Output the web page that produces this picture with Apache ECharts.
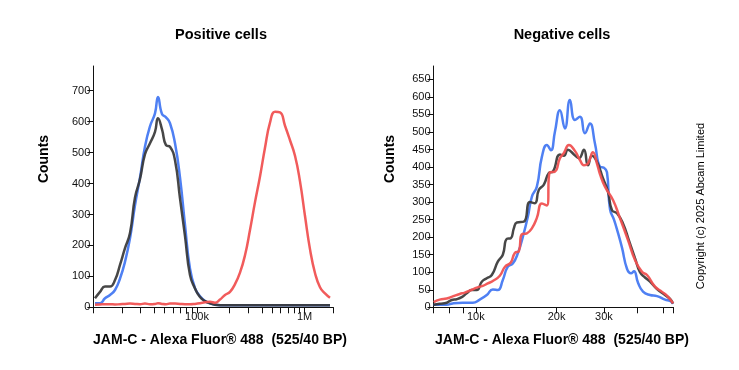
<!DOCTYPE html>
<html><head><meta charset="utf-8">
<script src="https://cdn.jsdelivr.net/npm/echarts@6/dist/echarts.min.js"></script>
<style>html,body{margin:0;padding:0;background:#fff}#c{width:739px;height:370px}</style>
</head><body><div id="c"></div>
<script>
// ---------- Positive cells (left) ----------
const leftX = [11270,12550,13960,15540,17300,19250,21420,23840,26530,29530,32860,36570,40700,43400,47280,51500,56110,62450,69500,77350,86090,95810,106600,118700,132100,147000,163600,182000,202600,225500,250900,279300,310800,346000,385000,428500,476900,530800,590700,657400,731600,814200,906200,1008600,1122000,1249000,1390000,1547000,1722000];
const leftBlue = [13,13,29,40,56,93,147,223,330,420,520,585,627,680,625,614,595,530,420,266,125,62,36,20,13,8,7,7,7,7,7,7,7,7,7,7,7,7,7,7,7,7,7,7,7,7,7,7,7];
const leftBlack = [29,50,67,67,88,137,191,240,355,415,495,530,567,611,575,524,519,475,352,230,104,61,33,20,13,8,7,7,7,7,7,7,7,7,7,7,7,7,7,7,7,7,7,7,7,7,7,7,7];
const leftRed = [8,9,10,10,9,10,11,12,11,10,12,10,11,13,11,10,12,12,11,10,10,11,13,16,18,15,25,40,50,75,112,168,250,340,423,516,597,632,630,587,540,490,407,295,188,111,65,45,31];

// ---------- Negative cells (right) ----------
const rightBlueX = [6971,7404,7795,8207,8944,9746,10349,10990,11572,12081,12611,13165,13741,14345,14974,15630,16177,16886,17627,18400,19043,19708,20576,21478,22420,23403,24431,25503,26621,27789,29008,30021,30805,31610,32714,33857,35040,36577,37855,38844,40200,41963,44563,47322,50689,52912,54293];
const rightBlue = [7,7,7,11,13,13,22,35,51,49,78,116,125,154,201,258,315,344,429,463,448,500,562,510,591,534,543,496,524,467,401,398,385,280,250,212,170,110,97,103,70,45,35,32,22,18,10];
const rightBlackX = [6971,7340,7795,8137,8494,8867,9256,9662,10086,10529,10990,11473,12081,12611,13052,13507,13860,14222,15103,15901,16599,17179,17932,18719,19372,20576,21295,22039,23203,24222,25285,26168,27082,28270,29765,31070,32157,33568,35342,37210,39178,40896,42690,44563,47322,50255,52912,54293];
const rightBlack = [7,10,13,21,23,29,40,49,49,73,83,92,130,150,195,197,225,242,244,300,297,335,350,383,387,436,432,449,436,425,449,405,432,415,368,330,277,268,239,190,140,100,85,73,52,37,24,11];
const rightRedX = [6971,7340,7795,8207,8716,9099,9662,10086,10620,11085,11572,12290,12830,13507,13979,14468,14846,15497,16177,16886,17627,18400,18880,19708,20576,21295,22229,23403,24431,25285,26168,27316,28270,29008,30280,32434,34444,36892,39178,41605,43430,46516,49400,52011,54293];
const rightRed = [15,22,25,31,38,42,50,56,61,68,75,90,115,128,155,160,208,211,225,255,296,290,385,387,425,440,463,446,420,405,410,442,410,380,344,306,254,192,135,101,92,59,44,30,11];

// ---------- axes ----------
const leftRange = [10870, 1848000];
const leftTicks = [10870,20000,30000,40000,50000,60000,70000,80000,90000,100000,200000,300000,400000,500000,600000,700000,800000,900000,1000000,1848000];
const leftLabels = [100000, 1000000];
const rightRange = [6960, 54500];
const rightTicks = [6960,8000,9000,10000,20000,30000,40000,50000,54500];
const rightLabels = [10000, 20000, 30000];
const leftYMax = 780, leftYTicks = [0,100,200,300,400,500,600,700];
const rightYMax = 688, rightYTicks = [0,50,100,150,200,250,300,350,400,450,500,550,600,650];

const titles = ['Positive cells', 'Negative cells'];
const xName = 'JAM-C - Alexa Fluor\u00AE 488  (525/40 BP)';
const yName = 'Counts';
const copyright = 'Copyright (c) 2025 Abcam Limited';

const FONT = '"Liberation Sans", Arial, sans-serif';
const COL = {blue: '#4f80f3', black: 'rgba(55,55,55,0.92)', red: 'rgba(240,82,82,0.95)'};

function fmt(v) {
  const n = Math.round(Math.pow(10, v));
  return n >= 1e6 ? (n / 1e6) + 'M' : (n / 1000) + 'k';
}
function xAxis(gi, range, ticks, labels) {
  return {
    type: 'value', gridIndex: gi,
    min: Math.log10(range[0]), max: Math.log10(range[1]),
    axisLine: {show: true, onZero: false, lineStyle: {color: '#111', width: 1}},
    axisTick: {show: true, length: 6, lineStyle: {color: '#111'}, customValues: ticks.map(Math.log10)},
    axisLabel: {show: true, customValues: labels.map(Math.log10), formatter: fmt, fontFamily: FONT, fontSize: 11, color: '#111', margin: 4},
    splitLine: {show: false}
  };
}
function yAxis(gi, max, ticks) {
  return {
    type: 'value', gridIndex: gi, min: 0, max: max,
    axisLine: {show: true, onZero: false, lineStyle: {color: '#111', width: 1}},
    axisTick: {show: true, length: 6, lineStyle: {color: '#111'}, customValues: ticks},
    axisLabel: {show: true, customValues: ticks, fontFamily: FONT, fontSize: 11, color: '#111', margin: 3},
    splitLine: {show: false}
  };
}
function line(xs, ys, color, gi) {
  return {
    type: 'line', xAxisIndex: gi, yAxisIndex: gi,
    data: xs.map((x, i) => [Math.log10(x), ys[i]]),
    showSymbol: false, smooth: 0.5,
    lineStyle: {color: color, width: 2.5}, itemStyle: {color: color},
    silent: true, animation: false
  };
}

const chart = echarts.init(document.getElementById('c'), null, {renderer: 'canvas'});
chart.setOption({
  backgroundColor: '#fff',
  animation: false,
  grid: [
    {left: 93.3, top: 66, width: 240, height: 241.3},
    {left: 433.5, top: 66, width: 240, height: 241.3}
  ],
  xAxis: [xAxis(0, leftRange, leftTicks, leftLabels), xAxis(1, rightRange, rightTicks, rightLabels)],
  yAxis: [yAxis(0, leftYMax, leftYTicks), yAxis(1, rightYMax, rightYTicks)],
  series: [
    line(leftX, leftBlue, COL.blue, 0),
    line(leftX, leftBlack, COL.black, 0),
    line(leftX, leftRed, COL.red, 0),
    line(rightBlueX, rightBlue, COL.blue, 1),
    line(rightBlackX, rightBlack, COL.black, 1),
    line(rightRedX, rightRed, COL.red, 1)
  ],
  graphic: [
    {type: 'text', x: 221, y: 35, style: {text: titles[0], font: 'bold 14.5px ' + FONT, align: 'center', verticalAlign: 'middle', fill: '#000'}},
    {type: 'text', x: 562, y: 35, style: {text: titles[1], font: 'bold 14.5px ' + FONT, align: 'center', verticalAlign: 'middle', fill: '#000'}},
    {type: 'text', x: 220, y: 340, style: {text: xName, font: 'bold 14px ' + FONT, align: 'center', verticalAlign: 'middle', fill: '#000'}},
    {type: 'text', x: 562, y: 340, style: {text: xName, font: 'bold 14px ' + FONT, align: 'center', verticalAlign: 'middle', fill: '#000'}},
    {type: 'text', x: 44, y: 159, rotation: Math.PI / 2, style: {text: yName, font: 'bold 14px ' + FONT, align: 'center', verticalAlign: 'middle', fill: '#000'}},
    {type: 'text', x: 390, y: 159, rotation: Math.PI / 2, style: {text: yName, font: 'bold 14px ' + FONT, align: 'center', verticalAlign: 'middle', fill: '#000'}},
    {type: 'text', x: 701, y: 206, rotation: Math.PI / 2, style: {text: copyright, font: '11px ' + FONT, align: 'center', verticalAlign: 'middle', fill: '#000'}}
  ]
});
</script>
</body></html>
